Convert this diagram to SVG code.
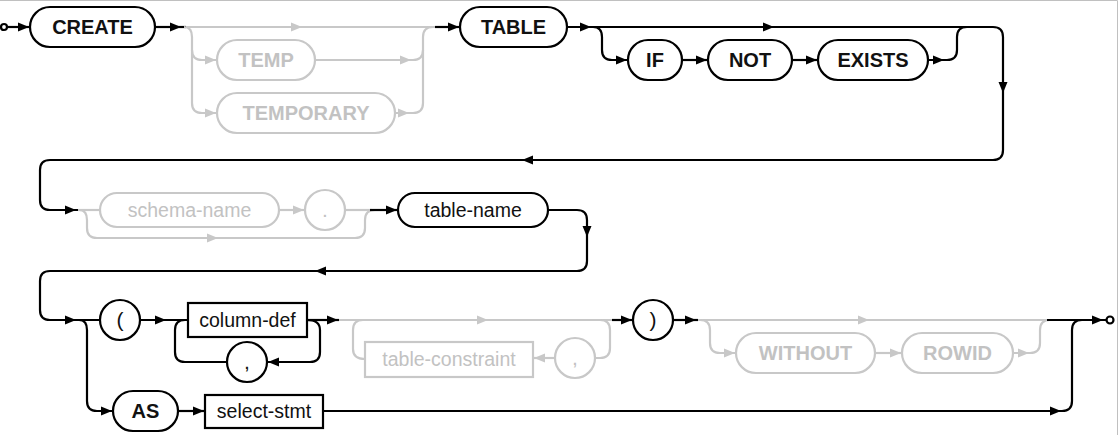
<svg xmlns="http://www.w3.org/2000/svg" xmlns:xlink="http://www.w3.org/1999/xlink" width="1118" height="435" viewBox="0 0 1118 435">
<style>
.lb{fill:none;stroke:#000;stroke-width:2.2}
.lg{fill:none;stroke:#c8c8c8;stroke-width:2.2}
.sb{fill:#fff;stroke:#000;stroke-width:2.2}
.sg{fill:#fff;stroke:#c8c8c8;stroke-width:2.2}
.ab{fill:#000}
.ag{fill:#c8c8c8}
.kw{font-family:"Liberation Sans",Arial,sans-serif;font-weight:bold;font-size:20px;text-anchor:middle}
.nt{font-family:"Liberation Sans",Arial,sans-serif;font-size:19.5px;text-anchor:middle}
.pu{font-family:"Liberation Sans",Arial,sans-serif;font-size:21px;text-anchor:middle}
.tb{fill:#111}
.tg{fill:#c2c2c2}
</style>
<defs>
<path id="a" d="M0,0 L-11,-4.5 L-11,4.5 Z"/>
</defs>
<rect width="1118" height="435" fill="#fff"/>
<path d="M0,0.5 H1117.5 V435" fill="none" stroke="#c0c0c0" stroke-width="1"/>

<g id="connectors">
  <!-- row 1 -->
  <path class="lb" d="M7,27 H30"/>
  <use href="#a" class="ab" transform="translate(29,27)"/>
  <path class="lb" d="M155,27 H186"/>
  <use href="#a" class="ab" transform="translate(181,27)"/>
  <path class="lg" d="M186,27 H437"/>
  <use href="#a" class="ag" transform="translate(302,27)"/>
  <path class="lg" d="M184,27 Q192,27 192,37 V103 Q192,113 202,113 H217"/>
  <path class="lg" d="M192,50 Q192,60 202,60 H217"/>
  <use href="#a" class="ag" transform="translate(216,60)"/>
  <use href="#a" class="ag" transform="translate(216,113)"/>
  <path class="lg" d="M315,60 H413 Q423,60 423,50 V37 Q423,27 433,27"/>
  <use href="#a" class="ag" transform="translate(411,60)"/>
  <path class="lg" d="M395,113 H413 Q423,113 423,103 V50"/>
  <use href="#a" class="ag" transform="translate(409,113)"/>
  <path class="lb" d="M435,27 H460"/>
  <use href="#a" class="ab" transform="translate(459,27)"/>
  <path class="lb" d="M567,27 H993 Q1003,27 1003,37 V150 Q1003,160 993,160 H50 Q40,160 40,170 V200 Q40,210 50,210 H78"/>
  <use href="#a" class="ab" transform="translate(591,27)"/>
  <use href="#a" class="ab" transform="translate(774,27)"/>
  <use href="#a" class="ab" transform="translate(1003,93) rotate(90)"/>
  <use href="#a" class="ab" transform="translate(522,160) rotate(180)"/>
  <use href="#a" class="ab" transform="translate(76,210)"/>
  <path class="lb" d="M593,27 Q602,27 602,37 V50 Q602,60 612,60 H628"/>
  <use href="#a" class="ab" transform="translate(627,60)"/>
  <path class="lb" d="M682,60 H708"/>
  <use href="#a" class="ab" transform="translate(707,60)"/>
  <path class="lb" d="M792,60 H818"/>
  <use href="#a" class="ab" transform="translate(817,60)"/>
  <path class="lb" d="M928,60 H947 Q957,60 957,50 V37 Q957,27 967,27"/>
  <use href="#a" class="ab" transform="translate(944,60)"/>
  <!-- row 2 -->
  <path class="lg" d="M78,210 H100"/>
  <path class="lg" d="M79,210 Q87,210 87,220 V228 Q87,238 97,238 H355 Q365,238 365,228 V220 Q365,210 375,210"/>
  <use href="#a" class="ag" transform="translate(218,238)"/>
  <path class="lg" d="M279,210 H305"/>
  <use href="#a" class="ag" transform="translate(304,210)"/>
  <path class="lg" d="M345,210 H372"/>
  <path class="lb" d="M370,210 H398"/>
  <use href="#a" class="ab" transform="translate(397,210)"/>
  <path class="lb" d="M548,210 H577 Q587,210 587,220 V261 Q587,271 577,271 H50 Q40,271 40,281 V310 Q40,320 50,320 H100"/>
  <use href="#a" class="ab" transform="translate(587,237) rotate(90)"/>
  <use href="#a" class="ab" transform="translate(315,271) rotate(180)"/>
  <use href="#a" class="ab" transform="translate(76,320)"/>
  <!-- row 3 -->
  <path class="lb" d="M79,320 Q87,320 87,330 V401 Q87,411 97,411 H113"/>
  <use href="#a" class="ab" transform="translate(112,411)"/>
  <path class="lb" d="M140,320 H188"/>
  <use href="#a" class="ab" transform="translate(166,320)"/>
  <path class="lb" d="M307,320 Q320,320 320,330 V352 Q320,362 310,362 H267"/>
  <use href="#a" class="ab" transform="translate(268,362) rotate(180)"/>
  <path class="lb" d="M227,362 H185 Q175,362 175,352 V330 Q175,320 185,320"/>
  <path class="lb" d="M307,320 H339"/>
  <use href="#a" class="ab" transform="translate(338,320)"/>
  <path class="lg" d="M339,320 H614"/>
  <use href="#a" class="ag" transform="translate(488,320)"/>
  <path class="lg" d="M600,320 Q610,320 610,330 V348 Q610,358 600,358 H595"/>
  <path class="lg" d="M555,358 H533"/>
  <use href="#a" class="ag" transform="translate(534,358) rotate(180)"/>
  <path class="lg" d="M365,359 Q353,359 353,349 V330 Q353,320 363,320"/>
  <path class="lb" d="M612,320 H633"/>
  <use href="#a" class="ab" transform="translate(632,320)"/>
  <path class="lb" d="M673,320 H698"/>
  <use href="#a" class="ab" transform="translate(696,320)"/>
  <path class="lg" d="M698,320 H1049"/>
  <use href="#a" class="ag" transform="translate(869,320)"/>
  <path class="lg" d="M700,320 Q710,320 710,330 V343 Q710,353 720,353 H736"/>
  <use href="#a" class="ag" transform="translate(735,353)"/>
  <path class="lg" d="M875,353 H902"/>
  <use href="#a" class="ag" transform="translate(901,353)"/>
  <path class="lg" d="M1013,353 H1030 Q1040,353 1040,343 V330 Q1040,320 1050,320"/>
  <use href="#a" class="ag" transform="translate(1029,353)"/>
  <path class="lb" d="M1047,320 H1106"/>
  <use href="#a" class="ab" transform="translate(1103,320)"/>
  <path class="lb" d="M178,411 H205"/>
  <use href="#a" class="ab" transform="translate(204,411)"/>
  <path class="lb" d="M323,411 H1062 Q1072,411 1072,401 V330 Q1072,320 1082,320"/>
  <use href="#a" class="ab" transform="translate(1061,411)"/>
</g>

<g id="start"><circle class="sb" cx="4" cy="27" r="3"/></g>
<g id="end"><circle class="sb" cx="1110" cy="320" r="3.5"/></g>

<g id="create"><rect class="sb" x="30" y="7" width="125" height="40" rx="20"/><text class="kw tb" x="92.5" y="34">CREATE</text></g>
<g id="temp"><rect class="sg" x="217" y="40" width="98" height="40" rx="20"/><text class="kw tg" x="266" y="67">TEMP</text></g>
<g id="temporary"><rect class="sg" x="217" y="93" width="178" height="40" rx="20"/><text class="kw tg" x="306" y="120">TEMPORARY</text></g>
<g id="table"><rect class="sb" x="460" y="7" width="107" height="40" rx="20"/><text class="kw tb" x="513.5" y="34">TABLE</text></g>
<g id="if"><rect class="sb" x="628" y="40" width="54" height="40" rx="20"/><text class="kw tb" x="655" y="67">IF</text></g>
<g id="not"><rect class="sb" x="708" y="40" width="84" height="40" rx="20"/><text class="kw tb" x="750" y="67">NOT</text></g>
<g id="exists"><rect class="sb" x="818" y="40" width="110" height="40" rx="20"/><text class="kw tb" x="873" y="67">EXISTS</text></g>

<g id="schema-name"><rect class="sg" x="100" y="193" width="179" height="34" rx="17"/><text class="nt tg" x="189.5" y="217">schema-name</text></g>
<g id="dot"><circle class="sg" cx="325" cy="210" r="20"/><text class="pu tg" x="325" y="217">.</text></g>
<g id="table-name"><rect class="sb" x="398" y="193" width="150" height="34" rx="17"/><text class="nt tb" x="473" y="217">table-name</text></g>

<g id="lparen"><circle class="sb" cx="120" cy="320" r="20"/><text class="pu tb" x="120" y="327">(</text></g>
<g id="column-def"><rect class="sb" x="188" y="303" width="119" height="34"/><text class="nt tb" x="247.5" y="327">column-def</text></g>
<g id="comma1"><circle class="sb" cx="247" cy="362" r="20"/><text class="pu tb" x="247" y="369">,</text></g>
<g id="table-constraint"><rect class="sg" x="365" y="342" width="168" height="35"/><text class="nt tg" x="449" y="366">table-constraint</text></g>
<g id="comma2"><circle class="sg" cx="575" cy="358" r="20"/><text class="pu tg" x="575" y="365">,</text></g>
<g id="rparen"><circle class="sb" cx="653" cy="320" r="20"/><text class="pu tb" x="653" y="327">)</text></g>
<g id="without"><rect class="sg" x="736" y="333" width="139" height="40" rx="20"/><text class="kw tg" x="805.5" y="360">WITHOUT</text></g>
<g id="rowid"><rect class="sg" x="902" y="333" width="111" height="40" rx="20"/><text class="kw tg" x="957.5" y="360">ROWID</text></g>
<g id="as"><rect class="sb" x="113" y="391" width="65" height="40" rx="20"/><text class="kw tb" x="145.5" y="418">AS</text></g>
<g id="select-stmt"><rect class="sb" x="205" y="395" width="118" height="33"/><text class="nt tb" x="264" y="418">select-stmt</text></g>
</svg>
